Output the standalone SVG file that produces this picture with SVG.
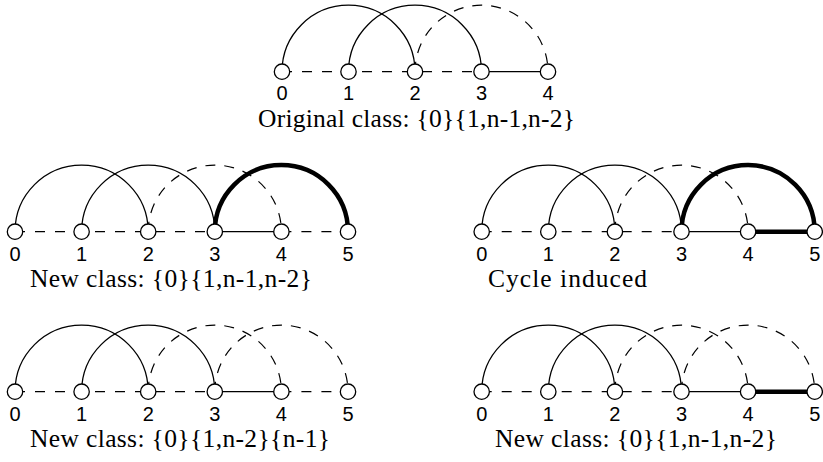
<svg xmlns="http://www.w3.org/2000/svg" width="823" height="462" viewBox="0 0 823 462">
<style>
.bg{fill:#fff}
.e{fill:none;stroke:#000;stroke-width:1.3}
.d{fill:none;stroke:#000;stroke-width:1.3;stroke-dasharray:10 10}
.da{fill:none;stroke:#000;stroke-width:1.2;stroke-dasharray:10 9}
.t{fill:none;stroke:#000;stroke-width:4.5}
.n circle{fill:#fff;stroke:#000;stroke-width:1.3}
.n text{font-size:20px;text-anchor:middle;fill:#000}
.cap{font-size:25.5px;fill:#000}
</style>
<rect class="bg" x="0" y="0" width="823" height="462"/>
<g id="connectors">
<path class="d" d="M282 71.7H481.5"/>
<path class="e" d="M481.5 71.7H548"/>
<path class="e" d="M282 71.7A66.5 66.5 0 0 1 415 71.7"/>
<path class="e" d="M348.5 71.7A66.5 66.5 0 0 1 481.5 71.7"/>
<path class="da" d="M415 71.7A66.5 66.5 0 0 1 548 71.7"/>
<path class="d" d="M15 231.7H214.8"/>
<path class="e" d="M214.8 231.7H281.4"/>
<path class="d" d="M281.4 231.7H348"/>
<path class="e" d="M15 231.7A66.6 66.6 0 0 1 148.2 231.7"/>
<path class="e" d="M81.6 231.7A66.6 66.6 0 0 1 214.8 231.7"/>
<path class="da" d="M148.2 231.7A66.6 66.6 0 0 1 281.4 231.7"/>
<path class="t" d="M214.8 231.7A66.6 66.6 0 0 1 348 231.7"/>
<path class="d" d="M481.7 231.7H681.5"/>
<path class="e" d="M681.5 231.7H748.1"/>
<path class="t" d="M748.1 231.7H814.7"/>
<path class="e" d="M481.7 231.7A66.6 66.6 0 0 1 614.9 231.7"/>
<path class="e" d="M548.3 231.7A66.6 66.6 0 0 1 681.5 231.7"/>
<path class="da" d="M614.9 231.7A66.6 66.6 0 0 1 748.1 231.7"/>
<path class="t" d="M681.5 231.7A66.6 66.6 0 0 1 814.7 231.7"/>
<path class="d" d="M15 391.7H214.8"/>
<path class="e" d="M214.8 391.7H281.4"/>
<path class="d" d="M281.4 391.7H348"/>
<path class="e" d="M15 391.7A66.6 66.6 0 0 1 148.2 391.7"/>
<path class="e" d="M81.6 391.7A66.6 66.6 0 0 1 214.8 391.7"/>
<path class="da" d="M148.2 391.7A66.6 66.6 0 0 1 281.4 391.7"/>
<path class="da" d="M214.8 391.7A66.6 66.6 0 0 1 348 391.7"/>
<path class="d" d="M481.7 391.7H681.5"/>
<path class="e" d="M681.5 391.7H748.1"/>
<path class="t" d="M748.1 391.7H814.7"/>
<path class="e" d="M481.7 391.7A66.6 66.6 0 0 1 614.9 391.7"/>
<path class="e" d="M548.3 391.7A66.6 66.6 0 0 1 681.5 391.7"/>
<path class="da" d="M614.9 391.7A66.6 66.6 0 0 1 748.1 391.7"/>
<path class="da" d="M681.5 391.7A66.6 66.6 0 0 1 814.7 391.7"/>
</g>
<g font-family="Liberation Sans, Arimo, Arial, Helvetica, sans-serif">
<g id="a0" class="n"><circle cx="282" cy="71.7" r="7.7"/><text x="282" y="100">0</text></g>
<g id="a1" class="n"><circle cx="348.5" cy="71.7" r="7.7"/><text x="348.5" y="100">1</text></g>
<g id="a2" class="n"><circle cx="415" cy="71.7" r="7.7"/><text x="415" y="100">2</text></g>
<g id="a3" class="n"><circle cx="481.5" cy="71.7" r="7.7"/><text x="481.5" y="100">3</text></g>
<g id="a4" class="n"><circle cx="548" cy="71.7" r="7.7"/><text x="548" y="100">4</text></g>
<g id="b0" class="n"><circle cx="15" cy="231.7" r="7.7"/><text x="15" y="261">0</text></g>
<g id="b1" class="n"><circle cx="81.6" cy="231.7" r="7.7"/><text x="81.6" y="261">1</text></g>
<g id="b2" class="n"><circle cx="148.2" cy="231.7" r="7.7"/><text x="148.2" y="261">2</text></g>
<g id="b3" class="n"><circle cx="214.8" cy="231.7" r="7.7"/><text x="214.8" y="261">3</text></g>
<g id="b4" class="n"><circle cx="281.4" cy="231.7" r="7.7"/><text x="281.4" y="261">4</text></g>
<g id="b5" class="n"><circle cx="348" cy="231.7" r="7.7"/><text x="348" y="261">5</text></g>
<g id="c0" class="n"><circle cx="481.7" cy="231.7" r="7.7"/><text x="481.7" y="261">0</text></g>
<g id="c1" class="n"><circle cx="548.3" cy="231.7" r="7.7"/><text x="548.3" y="261">1</text></g>
<g id="c2" class="n"><circle cx="614.9" cy="231.7" r="7.7"/><text x="614.9" y="261">2</text></g>
<g id="c3" class="n"><circle cx="681.5" cy="231.7" r="7.7"/><text x="681.5" y="261">3</text></g>
<g id="c4" class="n"><circle cx="748.1" cy="231.7" r="7.7"/><text x="748.1" y="261">4</text></g>
<g id="c5" class="n"><circle cx="814.7" cy="231.7" r="7.7"/><text x="814.7" y="261">5</text></g>
<g id="d0" class="n"><circle cx="15" cy="391.7" r="7.7"/><text x="15" y="421">0</text></g>
<g id="d1" class="n"><circle cx="81.6" cy="391.7" r="7.7"/><text x="81.6" y="421">1</text></g>
<g id="d2" class="n"><circle cx="148.2" cy="391.7" r="7.7"/><text x="148.2" y="421">2</text></g>
<g id="d3" class="n"><circle cx="214.8" cy="391.7" r="7.7"/><text x="214.8" y="421">3</text></g>
<g id="d4" class="n"><circle cx="281.4" cy="391.7" r="7.7"/><text x="281.4" y="421">4</text></g>
<g id="d5" class="n"><circle cx="348" cy="391.7" r="7.7"/><text x="348" y="421">5</text></g>
<g id="e0" class="n"><circle cx="481.7" cy="391.7" r="7.7"/><text x="481.7" y="421">0</text></g>
<g id="e1" class="n"><circle cx="548.3" cy="391.7" r="7.7"/><text x="548.3" y="421">1</text></g>
<g id="e2" class="n"><circle cx="614.9" cy="391.7" r="7.7"/><text x="614.9" y="421">2</text></g>
<g id="e3" class="n"><circle cx="681.5" cy="391.7" r="7.7"/><text x="681.5" y="421">3</text></g>
<g id="e4" class="n"><circle cx="748.1" cy="391.7" r="7.7"/><text x="748.1" y="421">4</text></g>
<g id="e5" class="n"><circle cx="814.7" cy="391.7" r="7.7"/><text x="814.7" y="421">5</text></g>
</g>
<g id="captions" font-family="Liberation Serif, Tinos, Times New Roman, Times, serif">
<text class="cap" x="258" y="127" textLength="317" lengthAdjust="spacing">Original class: {0}{1,n-1,n-2}</text>
<text class="cap" x="30" y="287" textLength="282" lengthAdjust="spacing">New class: {0}{1,n-1,n-2}</text>
<text class="cap" x="488" y="287" textLength="159" lengthAdjust="spacing">Cycle induced</text>
<text class="cap" x="30" y="447" textLength="300" lengthAdjust="spacing">New class: {0}{1,n-2}{n-1}</text>
<text class="cap" x="495" y="447" textLength="282" lengthAdjust="spacing">New class: {0}{1,n-1,n-2}</text>
</g>
</svg>
